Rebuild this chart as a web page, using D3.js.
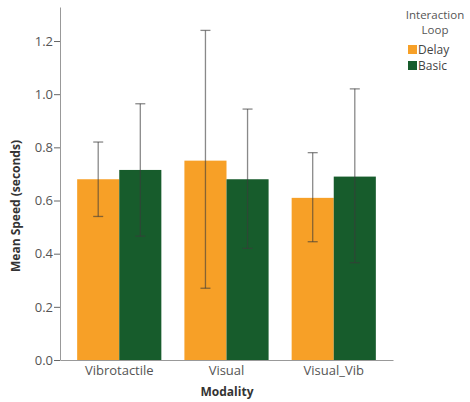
<!doctype html>
<html lang="en-US">
<head>
  <meta charset="utf-8">
  <title>Mean Speed by Modality</title>
  <script type="text/javascript" src="https://d3js.org/d3.v7.min.js"></script>
  <style>
    body { margin: 0; background: #fff; }
    svg text { font-family: "Open Sans", "DejaVu Sans", sans-serif; }
  </style>
</head>
<body>
<svg width="470" height="402"></svg>
<script type="text/javascript">
// data
var modalities = ["Vibrotactile", "Visual", "Visual_Vib"];
var loops = ["Delay", "Basic"];
var delayMean = [0.68, 0.75, 0.61];
var delayLow  = [0.54, 0.27, 0.445];
var delayHigh = [0.82, 1.24, 0.78];
var basicMean = [0.715, 0.68, 0.69];
var basicLow  = [0.466, 0.42, 0.366];
var basicHigh = [0.964, 0.944, 1.02];
var yTicks = [0.0, 0.2, 0.4, 0.6, 0.8, 1.0, 1.2];
var colors = ["#f7a027", "#175c2c"];

var rows = [];
modalities.forEach(function(m, i) {
    rows.push({modality: m, loop: "Delay", mean: delayMean[i], lo: delayLow[i], hi: delayHigh[i]});
    rows.push({modality: m, loop: "Basic", mean: basicMean[i], lo: basicLow[i], hi: basicHigh[i]});
});

var svg = d3.select("svg");
var plotL = 60, plotR = 393, plotT = 7, plotB = 360;

var x = d3.scaleBand().domain(modalities).range([plotL, plotR])
    .paddingInner(0.215).paddingOuter(0.16);
var x1 = d3.scaleBand().domain(loops).range([0, x.bandwidth()]);
var y = d3.scaleLinear().domain([0, 1.328]).range([plotB, plotT]);
var color = d3.scaleOrdinal().domain(loops).range(colors);

// bars
svg.append("g").selectAll("rect")
    .data(rows)
    .enter().append("rect")
    .attr("x", function(d) { return x(d.modality) + x1(d.loop); })
    .attr("y", function(d) { return y(d.mean); })
    .attr("width", x1.bandwidth())
    .attr("height", function(d) { return y(0) - y(d.mean); })
    .attr("fill", function(d) { return color(d.loop); });

// error bars
var err = svg.append("g").attr("stroke", "#3a3a3a").attr("stroke-opacity", 0.6).attr("stroke-width", 1.3);
rows.forEach(function(d) {
    var cx = x(d.modality) + x1(d.loop) + x1.bandwidth() / 2;
    err.append("line").attr("x1", cx).attr("x2", cx).attr("y1", y(d.lo)).attr("y2", y(d.hi));
    err.append("line").attr("x1", cx - 5).attr("x2", cx + 5).attr("y1", y(d.lo)).attr("y2", y(d.lo));
    err.append("line").attr("x1", cx - 5).attr("x2", cx + 5).attr("y1", y(d.hi)).attr("y2", y(d.hi));
});

// axes
var yAxis = svg.append("g")
    .attr("transform", "translate(" + plotL + ",0)")
    .call(d3.axisLeft(y).tickValues(yTicks).tickFormat(d3.format(".1f")).tickSize(6).tickSizeOuter(0));
yAxis.select(".domain").attr("stroke", "#999");
yAxis.selectAll(".tick line").attr("stroke", "#666");
yAxis.selectAll(".tick text").attr("fill", "#555").attr("font-size", 13).attr("x", -7);

var xAxis = svg.append("g")
    .attr("transform", "translate(0," + plotB + ")")
    .call(d3.axisBottom(x).tickSize(0).tickSizeOuter(0));
xAxis.select(".domain").attr("stroke", "#999");
xAxis.selectAll(".tick text").attr("fill", "#555").attr("font-size", 13).attr("dy", "0.9em");

// axis titles
svg.append("text")
    .attr("x", 227).attr("y", 396)
    .attr("text-anchor", "middle")
    .attr("font-size", 12).attr("font-weight", "bold").attr("fill", "#333")
    .text("Modality");

svg.append("text")
    .attr("transform", "translate(20,206) rotate(-90)")
    .attr("text-anchor", "middle")
    .attr("font-size", 12).attr("font-weight", "bold").attr("fill", "#333")
    .text("Mean Speed (seconds)");

// legend
var legend = svg.append("g");
legend.append("text").attr("x", 435).attr("y", 19).attr("text-anchor", "middle")
    .attr("font-size", 11.5).attr("fill", "#555").text("Interaction");
legend.append("text").attr("x", 435).attr("y", 34).attr("text-anchor", "middle")
    .attr("font-size", 11.5).attr("fill", "#555").text("Loop");
loops.forEach(function(l, i) {
    legend.append("rect").attr("x", 408).attr("y", 45 + i * 16)
        .attr("width", 9).attr("height", 9).attr("fill", color(l));
    legend.append("text").attr("x", 418).attr("y", 54 + i * 16)
        .attr("font-size", 12).attr("fill", "#444").text(l);
});
</script>
</body>
</html>
